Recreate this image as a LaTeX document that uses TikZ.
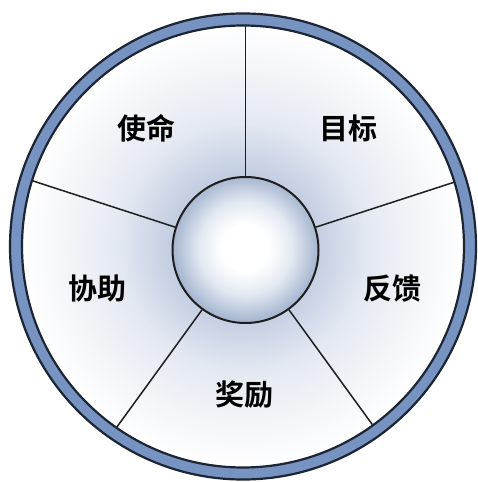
\documentclass[tikz,border=0pt]{standalone}
\usepackage{fontspec}
\usetikzlibrary{calc}
\newfontfamily\cjk{Noto Sans CJK SC}[BoldFont={Noto Sans CJK SC Bold}]
\definecolor{ringblue}{HTML}{7693C1}
\definecolor{ringedge}{HTML}{1C2533}
\definecolor{lineink}{HTML}{1E1E1E}
\definecolor{segA}{HTML}{C3CEE1}
\definecolor{segB}{HTML}{E3E8F1}
\definecolor{segC}{HTML}{F6F7FA}
\definecolor{ballA}{HTML}{E3E9F2}
\definecolor{ballB}{HTML}{B9C6DB}
\definecolor{ballC}{HTML}{A5B5CF}
\pgfdeclareradialshading{segshade}{\pgfpoint{0bp}{0bp}}{color(0bp)=(segA); color(8.3bp)=(segA); color(14bp)=(segB); color(21bp)=(segC); color(25bp)=(white); color(50bp)=(white)}
\pgfdeclareradialshading{ballshade}{\pgfpoint{0bp}{1bp}}{color(0bp)=(white); color(8bp)=(white); color(16bp)=(ballA); color(22bp)=(ballB); color(25bp)=(ballC); color(50bp)=(ballC)}
\begin{document}
\begin{tikzpicture}[x=1pt,y=1pt,
  hubstyle/.style={circle, draw=lineink, line width=2pt, shading=ballshade, minimum size=146pt, inner sep=0pt},
  spoke/.style={draw=lineink, line width=1.5pt},
  lbl/.style={font=\cjk\bfseries\fontsize{29}{29}\selectfont, text=black, inner sep=0pt}]
\fill[white] (0,0) rectangle (477,482);
\useasboundingbox (0,0) rectangle (477,482);
\coordinate (rc) at (243,235.5);
% segment area
\shade[shading=segshade] (rc) circle[radius=221];
% hub
\node[hubstyle] (hub) at (245.5,232) {};
% spokes
\begin{scope}
  \clip (rc) circle[radius=221];
  \foreach \a/\n in {90/t,18/ur,-54/lr,-126/ll,162/ul} {
    \coordinate (end\n) at ($(hub.center)+(\a:240)$);
    \draw[spoke] (hub.\a) -- (end\n);
  }
\end{scope}
% ring
\draw[ringblue, line width=12pt] (rc) circle[radius=227];
\draw[ringedge, line width=2.2pt] (rc) circle[radius=233];
\draw[ringedge, line width=2.2pt] (rc) circle[radius=221];
% labels
\node[lbl] (shiming) at (146,354) {使命};
\node[lbl] (mubiao) at (348,354) {目标};
\node[lbl] (xiezhu) at (97,194) {协助};
\node[lbl] (fankui) at (392.5,193) {反馈};
\node[lbl] (jiangli) at (244,87) {奖励};
\end{tikzpicture}
\end{document}
